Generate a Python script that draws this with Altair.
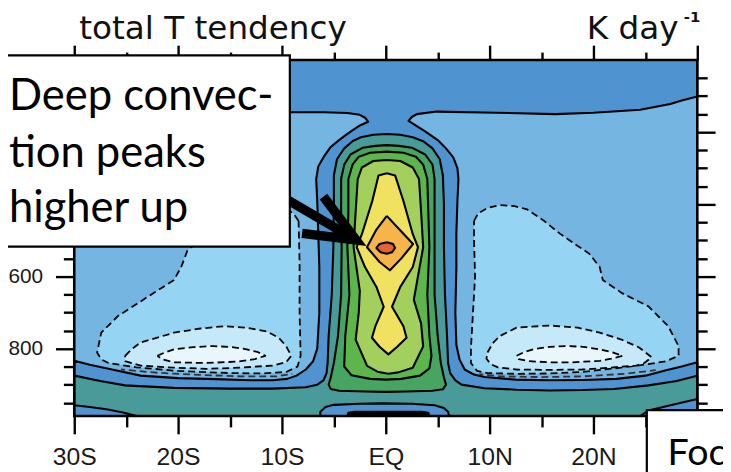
import altair as alt
import pandas as pd

# ------------------------------------------------------------------
# Values  (lat in degrees N, p in hPa)
# ------------------------------------------------------------------
LAT_DOMAIN = [-30, 30]
P_DOMAIN = [0, 987]

LAT_MAJOR = [-30, -20, -10, 0, 10, 20, 30]
LAT_LABELS = ["30S", "20S", "10S", "EQ", "10N", "20N", ""]   # 30N hidden under the box
LAT_MINOR = [-25, -15, -5, 5, 15, 25]
P_MAJOR = [200, 400, 600, 800]
P_LABELS = ["", "", "600", "800"]                              # 200/400 hidden under the box
P_MINOR = [50, 100, 150, 250, 300, 350, 450, 500, 550, 650, 700, 750, 850, 900, 950]

# whole panel (background: slightly negative tendency)
WHOLE = [(-30, 0), (30, 0), (30, 987), (-30, 987)]

# zero contour: region of positive tendency (top band, neck, tower, surface layer)
POS0 = [(-30, 0), (30, 0), (30, 101), (28.5, 112), (27.4, 122), (24.5, 138), (20.0, 146),
        (16.3, 150), (10.6, 146), (4.9, 143), (3.0, 150), (2.5, 158), (2.2, 169),
        (2.8, 180), (3.9, 200), (5.0, 222), (5.8, 245), (6.5, 270), (6.9, 300), (7.0, 330),
        (6.9, 391), (6.8, 480), (6.8, 574), (6.7, 700), (6.8, 790), (7.1, 830), (7.6, 858),
        (8.5, 872), (9.5, 879), (12.5, 886), (15.8, 888), (19.0, 887), (22.2, 884),
        (25.0, 875), (26.9, 861), (28.5, 850), (30, 838), (30, 987), (-30, 987),
        (-30, 834), (-28.5, 845), (-26.7, 856), (-23.6, 875), (-20.0, 882), (-17.2, 884),
        (-13.0, 888), (-10.9, 888), (-9.5, 884), (-8.6, 875), (-7.7, 858), (-7.0, 835),
        (-6.6, 800), (-6.4, 700), (-6.4, 574), (-6.5, 480), (-6.6, 391), (-6.7, 330),
        (-6.5, 295), (-5.9, 265), (-5.3, 241), (-4.5, 222), (-3.7, 205), (-2.6, 183),
        (-1.7, 171), (-2.0, 160), (-2.5, 152), (-3.7, 147), (-6.0, 145), (-9.1, 145),
        (-15.0, 144), (-22.0, 142), (-30, 140)]

# negative (dashed) contours, first level
NEG1_W = [(-8.4, 446), (-8.9, 425), (-9.8, 410), (-11.0, 402), (-12.4, 405), (-13.8, 418),
          (-15.5, 448), (-17.3, 485), (-19.1, 528), (-19.7, 574), (-20.4, 610), (-22.9, 656),
          (-25.8, 710), (-27.4, 756), (-27.8, 811), (-27.4, 830), (-26.7, 840), (-24.0, 852),
          (-20.0, 862), (-15.0, 868), (-12.0, 869), (-9.6, 865), (-8.5, 850), (-8.2, 820),
          (-8.3, 700), (-8.3, 560)]
NEG1_E = [(8.5, 446), (8.9, 425), (9.8, 410), (11.0, 402), (12.4, 405), (13.6, 414),
          (15.2, 445), (16.8, 482), (18.3, 512), (19.6, 537), (20.6, 574), (20.9, 610),
          (22.8, 647), (25.3, 683), (27.2, 738), (28.2, 793), (28.2, 820), (27.0, 835),
          (25.3, 843), (22.0, 855), (18.9, 865), (15.8, 869), (12.6, 870), (9.8, 868),
          (8.8, 862), (8.2, 840), (8.2, 800), (8.4, 700), (8.6, 600), (8.5, 500)]
# second level
NEG2_W = [(-25.1, 820), (-24.4, 800), (-23.6, 783), (-20.4, 756), (-18.0, 745), (-15.6, 738),
          (-13.5, 742), (-11.5, 752), (-10.3, 770), (-9.6, 793), (-9.1, 820), (-9.6, 838),
          (-10.9, 847), (-14.0, 853), (-17.2, 856), (-20.4, 853), (-23.6, 847), (-25.1, 835)]
NEG2_E = [(9.8, 811), (10.3, 785), (11.0, 765), (12.6, 742), (15.8, 736), (18.5, 742),
          (20.6, 756), (22.7, 775), (24.4, 797), (25.6, 824), (24.9, 840), (24.1, 847),
          (21.5, 853), (18.9, 858), (15.8, 859), (12.6, 858), (10.8, 852), (10.1, 843), (9.7, 828)]
# third level
NEG3_W = [(-22.0, 820), (-21.2, 810), (-20.4, 802), (-18.5, 796), (-16.6, 793), (-14.8, 796),
          (-13.4, 802), (-12.3, 810), (-11.6, 820), (-12.6, 829), (-14.2, 836), (-17.3, 840),
          (-20.4, 838), (-21.5, 830)]
NEG3_E = [(12.6, 820), (13.3, 810), (14.2, 802), (15.8, 795), (17.4, 793), (19.0, 795),
          (20.6, 802), (21.8, 810), (22.8, 820), (21.7, 828), (20.6, 834), (18.0, 838),
          (15.8, 838), (13.8, 835), (12.8, 829)]
# tightly packed dashed contours just above the surface layer
PACK_W = [(-25.5, 858), (-22.0, 867), (-18.0, 873), (-14.0, 877), (-10.5, 877), (-9.0, 870)]
PACK_E = [(9.0, 871), (11.0, 877), (15.0, 879), (19.0, 877), (23.0, 870), (26.0, 860)]

# positive (solid) contours of the convective tower
POS1 = [(-30, 875), (-27.5, 890), (-25.1, 902), (-20.4, 909), (-15.0, 911), (-10.9, 911),
        (-7.7, 907), (-6.6, 900), (-6.0, 888), (-5.7, 868), (-5.6, 840), (-5.5, 765),
        (-5.2, 650), (-5.05, 519), (-5.0, 400), (-5.0, 320), (-4.7, 275), (-4.0, 245),
        (-3.2, 225), (-2.4, 214), (-1.2, 207), (0.1, 205), (1.4, 207), (2.6, 214), (3.6, 225),
        (4.5, 245), (5.2, 275), (5.5, 320), (5.6, 400), (5.6, 519), (5.7, 650), (5.9, 765),
        (6.0, 840), (6.2, 868), (6.7, 888), (7.3, 900), (9.5, 910), (12.6, 914), (15.8, 916),
        (19.0, 915), (22.0, 912), (25.3, 902), (28.0, 890), (30, 875), (30, 987), (-30, 987)]
POS2 = [(-4.3, 330), (-4.0, 290), (-3.4, 262), (-2.2, 243), (-1.0, 238), (0.1, 236), (1.3, 238),
        (2.5, 243), (3.8, 262), (4.5, 290), (4.7, 330), (4.7, 519), (4.7, 650), (5.0, 765),
        (5.3, 840), (5.6, 880), (5.8, 900), (5.5, 913), (4.5, 917), (2.0, 919), (0.0, 920),
        (-2.0, 919), (-4.5, 917), (-5.3, 912), (-5.5, 900), (-5.3, 880), (-5.0, 840),
        (-4.6, 765), (-4.3, 650), (-4.25, 519), (-4.3, 420)]
POS3 = [(-3.6, 330), (-3.2, 290), (-2.6, 268), (-1.5, 257), (0.1, 254), (1.7, 257), (2.9, 268),
        (3.6, 290), (4.0, 330), (4.2, 519), (4.0, 650), (4.2, 765), (4.4, 820), (4.2, 855),
        (3.3, 875), (1.5, 884), (0.0, 886), (-1.5, 884), (-3.3, 874), (-4.0, 850), (-3.9, 765),
        (-3.5, 650), (-3.7, 519), (-3.6, 420)]
POS4 = [(-2.7, 330), (-2.3, 298), (-1.2, 280), (0.1, 277), (1.4, 280), (2.6, 298), (3.2, 330),
        (3.4, 420), (3.6, 519), (3.1, 600), (2.7, 665), (3.4, 730), (3.6, 794), (2.6, 853),
        (1.2, 866), (0.25, 870), (-0.8, 864), (-1.8, 848), (-2.9, 775), (-2.6, 700),
        (-2.5, 640), (-3.1, 519), (-2.9, 420)]
POS5 = [(0.1, 314), (0.9, 320), (1.7, 391), (2.6, 483), (3.1, 519), (2.6, 574), (1.4, 629),
        (0.6, 684), (1.7, 738), (2.0, 770), (1.1, 795), (0.25, 816), (-0.6, 795), (-1.33, 770),
        (-1.0, 738), (-0.2, 684), (-0.9, 629), (-2.0, 574), (-2.8, 519), (-2.3, 483),
        (-1.3, 391), (-0.7, 320)]
POS6 = [(0.1, 432), (1.0, 460), (2.63, 510), (1.5, 550), (0.4, 583), (-0.6, 560),
        (-1.81, 519), (-0.9, 470)]
POS7 = [(0.1, 505), (0.7, 510), (0.9, 521), (0.6, 533), (0.1, 537), (-0.5, 533), (-0.9, 521),
        (-0.6, 510)]

# weaker values right at the surface
LOW_W = [(-30, 957), (-28.5, 962), (-26.9, 968), (-25.3, 977), (-24.0, 987), (-30, 987)]
LOW_E = [(24.5, 987), (25.3, 972), (27.0, 960), (30, 940), (30, 987)]
LOW_EQ = [(-6.3, 987), (-6.3, 975), (-5.8, 962), (-5.0, 956), (-2.5, 953), (-0.4, 952),
          (2.5, 953), (4.7, 957), (5.6, 965), (6.0, 975), (6.1, 987)]
CORE_EQ = [(-3.7, 987), (-3.6, 978), (-3.0, 975), (3.5, 975), (4.1, 978), (4.2, 987)]

# ------------------------------------------------------------------
# Styles
# ------------------------------------------------------------------
COLORS = {
    "bg": "#74b5e1", "pos0": "#4f94d0", "neg1": "#96d4f3", "neg2": "#c5e9f8",
    "neg3": "#e9f6fc", "pos1": "#489b98", "pos2": "#47a562", "pos3": "#5cb64c",
    "pos4": "#a3cf5c", "pos5": "#f0e160", "pos6": "#f5b548", "pos7": "#e8642e",
    "low": "#4f94d0", "core": "#000000",
}

SHAPES = [
    ("a00", WHOLE, "bg", "none"),
    ("a01", POS0, "pos0", "solid"),
    ("a02", NEG1_W, "neg1", "dash"),
    ("a03", NEG1_E, "neg1", "dash"),
    ("a04", NEG2_W, "neg2", "dash"),
    ("a05", NEG2_E, "neg2", "dash"),
    ("a06", NEG3_W, "neg3", "dash"),
    ("a07", NEG3_E, "neg3", "dash"),
    ("a08", POS1, "pos1", "solid"),
    ("a09", POS2, "pos2", "solid"),
    ("a10", POS3, "pos3", "solid"),
    ("a11", POS4, "pos4", "solid"),
    ("a12", POS5, "pos5", "solid"),
    ("a13", POS6, "pos6", "solid"),
    ("a14", POS7, "pos7", "solid"),
    ("a15", LOW_W, "low", "solid"),
    ("a16", LOW_E, "low", "solid"),
    ("a17", LOW_EQ, "low", "solid"),
    ("a18", CORE_EQ, "core", "solid"),
]
OPEN_LINES = [("b00", PACK_W), ("b01", PACK_E)]

rows = []
for name, pts, lvl, style in SHAPES:
    for k, (la, pp) in enumerate(list(pts) + [pts[0]]):
        rows.append({"shape": name, "k": k, "lat": la, "p": pp})
for name, pts in OPEN_LINES:
    for k, (la, pp) in enumerate(pts):
        rows.append({"shape": name, "k": k, "lat": la, "p": pp})
poly = pd.DataFrame(rows)

xs = alt.Scale(domain=LAT_DOMAIN, nice=False, zero=False)
ys = alt.Scale(domain=P_DOMAIN, reverse=True, nice=False, zero=False)

X = lambda f: alt.X(f, type="quantitative", scale=xs, axis=None)
Y = lambda f: alt.Y(f, type="quantitative", scale=ys, axis=None)

DASH = [7, 4]
layers = []
for name, pts, lvl, style in SHAPES:
    kw = dict(fill=COLORS[lvl], stroke="black", strokeJoin="round")
    if style == "none":
        kw["strokeWidth"] = 0
        kw["strokeOpacity"] = 0
    elif style == "dash":
        kw["strokeWidth"] = 1.8
        kw["strokeDash"] = DASH
    else:
        kw["strokeWidth"] = 2.1
    layers.append(
        alt.Chart(poly).transform_filter(alt.datum.shape == name)
        .mark_line(**kw).encode(x=X("lat"), y=Y("p"), order=alt.Order("k:Q"))
    )
for name, pts in OPEN_LINES:
    layers.append(
        alt.Chart(poly).transform_filter(alt.datum.shape == name)
        .mark_line(stroke="#333", strokeWidth=1.8, strokeDash=DASH, strokeDashOffset=3)
        .encode(x=X("lat"), y=Y("p"), order=alt.Order("k:Q"))
    )

# frame
frame = pd.DataFrame({"lat0": [LAT_DOMAIN[0]], "lat1": [LAT_DOMAIN[1]],
                      "p0": [P_DOMAIN[0]], "p1": [P_DOMAIN[1]]})
layers.append(
    alt.Chart(frame).mark_rect(fillOpacity=0, stroke="black", strokeWidth=2.6)
    .encode(x=X("lat0"), x2="lat1:Q", y=Y("p0"), y2="p1:Q")
)

# axes with major and minor tick marks on all four sides
def label_expr(values, labels):
    expr = "''"
    for v, lab in reversed(list(zip(values, labels))):
        expr = f"datum.value == {v} ? '{lab}' : ({expr})"
    return expr

common = dict(domain=False, grid=False, tickColor="black", tickWidth=2.4, title=None, zindex=0)
ax_pairs = [
    (alt.Axis(orient="bottom", values=LAT_MAJOR, tickSize=18,
              labelExpr=label_expr(LAT_MAJOR, LAT_LABELS),
              labelFont="Liberation Sans Narrow, Liberation Sans", labelFontSize=25,
              labelColor="#1a1a1a", labelPadding=11, labelFlush=False, labelOverlap=False,
              **common),
     alt.Axis(orient="left", values=P_MAJOR, tickSize=19,
              labelExpr=label_expr(P_MAJOR, P_LABELS), labelFont="Liberation Sans",
              labelFontSize=21, labelColor="#1a1a1a", labelPadding=13, **common)),
    (alt.Axis(orient="bottom", values=LAT_MINOR, tickSize=11, labels=False, **common),
     alt.Axis(orient="left", values=P_MINOR, tickSize=11, labels=False, **common)),
    (alt.Axis(orient="top", values=LAT_MAJOR, tickSize=15, labels=False, **common),
     alt.Axis(orient="right", values=P_MAJOR, tickSize=18, labels=False, **common)),
    (alt.Axis(orient="top", values=LAT_MINOR, tickSize=8, labels=False, **common),
     alt.Axis(orient="right", values=P_MINOR, tickSize=10, labels=False, **common)),
]
for axx, axy in ax_pairs:
    layers.append(
        alt.Chart(frame).mark_rect(opacity=0).encode(
            x=alt.X("lat0:Q", scale=xs, axis=axx), x2="lat1:Q",
            y=alt.Y("p0:Q", scale=ys, axis=axy), y2="p1:Q")
    )

# ------------------------------------------------------------------
# Titles and annotations (anchored in data units)
# ------------------------------------------------------------------
def text_layer(lat, p, txt, **kw):
    d = pd.DataFrame({"lat": [lat], "p": [p], "t": [txt]})
    return alt.Chart(d).mark_text(**kw).encode(x=X("lat"), y=Y("p"), text="t:N")

layers.append(text_layer(-29.52, -57.6, "total T tendency", align="left", baseline="alphabetic",
                         font="DejaVu Sans", fontSize=33, color="#111"))
layers.append(text_layer(28.19, -57.6, "K day", align="right", baseline="alphabetic",
                         font="DejaVu Sans", fontSize=33, color="#111"))
layers.append(text_layer(28.7, -106, "-1", align="left", baseline="alphabetic",
                         font="DejaVu Sans", fontSize=15, fontWeight="bold", color="#111"))

# arrow
ARROW_SHAFT = [(-9.52, 386.6), (-2.86, 499)]
ARROW_HEAD = [(-6.0, 378.6), (-2.86, 499), (-8.06, 480.7)]
arrow = pd.DataFrame(
    [{"part": "s", "k": i, "lat": a, "p": b} for i, (a, b) in enumerate(ARROW_SHAFT)]
    + [{"part": "h", "k": i, "lat": a, "p": b} for i, (a, b) in enumerate(ARROW_HEAD)]
)
for part in ["s", "h"]:
    layers.append(
        alt.Chart(arrow).transform_filter(alt.datum.part == part)
        .mark_line(color="black", strokeWidth=9.5, strokeJoin="miter", strokeCap="butt")
        .encode(x=X("lat"), y=Y("p"), order=alt.Order("k:Q"))
    )

boxes = pd.DataFrame({"lat0": [-40.0, 25.14], "lat1": [-9.24, 40.0],
                      "p0": [-12.9, 970.7], "p1": [517.4, 1300.0]})
layers.append(
    alt.Chart(boxes).mark_rect(fill="white", stroke="black", strokeWidth=2.2)
    .encode(x=X("lat0"), x2="lat1:Q", y=Y("p0"), y2="p1:Q")
)
for lat, p, txt in [(-36.29, 138.5, "Deep convec-"), (-36.29, 297.5, "tion peaks"),
                    (-36.29, 449.7, "higher up")]:
    layers.append(text_layer(lat, p, txt, align="left", baseline="alphabetic",
                             font="Lato", fontSize=44, color="black"))
layers.append(text_layer(27.14, 1124, "Foc", align="left", baseline="alphabetic",
                         font="Lato", fontSize=38, color="black"))

chart = (
    alt.layer(*layers)
    .resolve_axis(x="independent", y="independent")
    .properties(width=630, height=360,
                padding={"left": 67, "top": 50, "right": 26, "bottom": 54},
                autosize=alt.AutoSizeParams(type="none"),
                background="white")
    .configure_view(strokeWidth=0)
)

chart.save("out.html", embed_options={"renderer": "svg", "actions": False})
